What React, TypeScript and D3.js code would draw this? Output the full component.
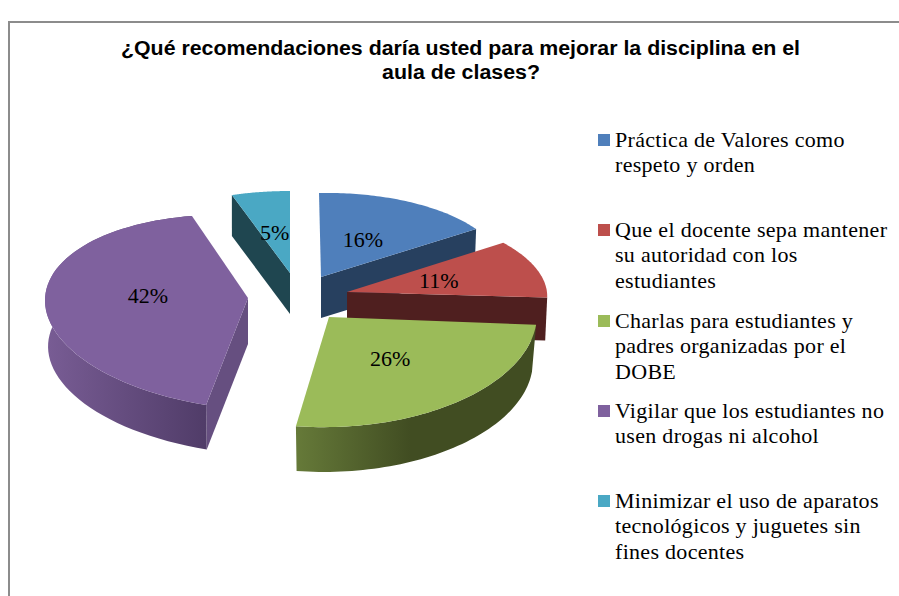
import React from "react";
import * as d3 from "d3";

const titleLines = ["¿Qué recomendaciones daría usted para mejorar la disciplina en el", "aula de clases?"];
const values = [16, 11, 26, 42, 5];
const labels = ["16%", "11%", "26%", "42%", "5%"];
const legendLines = [
  ["Práctica de Valores como", "respeto y orden"],
  ["Que el docente sepa mantener", "su autoridad con los", "estudiantes"],
  ["Charlas para estudiantes y", "padres organizadas por el", "DOBE"],
  ["Vigilar que los estudiantes no", "usen drogas ni alcohol"],
  ["Minimizar el uso de aparatos", "tecnológicos y juguetes sin", "fines docentes"],
];
const colors = ["#4f7fbb", "#bd4f4c", "#9bbb59", "#7f619e", "#4aa8c4"];
const sideColors = ["#27405f", "#4f1f1f", "#414d22", "#664f80", "#1f4650"];
const legendFirstBaseline = [147, 237, 328, 418, 508];

// Per-slice perspective frame of the exploded 3D pie.
const frames = [
  { ox: 321, oy: 277, ax: 185, ay: -3.5, bx: -2, by: -84, k: 0, depth: 41, f: 0.99, inner: "end", wall: false },
  { ox: 347, oy: 292, ax: 199, ay: -5, bx: -22, by: -84, k: 0, depth: 43, f: 0.99, inner: "end", wall: false },
  { ox: 329, oy: 317, ax: 208, ay: -6, bx: -6, by: -110, k: 0, depth: 47, f: 0.98, inner: "", wall: true },
  { ox: 248, oy: 298, ax: 201, ay: 11, bx: -2, by: -95, k: 0.15, depth: 46, f: 0.985, inner: "start", wall: true },
  { ox: 290, oy: 273, ax: 188, ay: 0, bx: 0, by: -82, k: 0, depth: 41, f: 1, inner: "start", wall: false },
];
const drawOrder = [4, 0, 1, 3, 2];

type Frame = (typeof frames)[number];
const project = (fr: Frame, t: number, r = 1): [number, number] => {
  const s = Math.sin(t);
  const c = Math.cos(t);
  const den = 1 + fr.k * c;
  return [fr.ox + (r * (s * fr.ax + c * fr.bx)) / den, fr.oy + (r * (s * fr.ay + c * fr.by)) / den];
};
const lower = (fr: Frame, p: [number, number]): [number, number] => [
  fr.ox + (p[0] - fr.ox) * fr.f,
  fr.oy + fr.depth + (p[1] - fr.oy) * fr.f,
];

const arcs = d3.pie<number>().sort(null).startAngle(0).endAngle(2 * Math.PI)(values);
const line = d3.line();

export default function App() {
  return (
    <svg width={899} height={596} style={{ position: "absolute", left: 0, top: 0, display: "block" }}>
      <defs>
        <linearGradient id="wall2" gradientUnits="userSpaceOnUse" x1={296} x2={410} y1={0} y2={0}>
          <stop offset="0" stopColor="#667a39" />
          <stop offset="1" stopColor="#414d22" />
        </linearGradient>
        <linearGradient id="wall3" gradientUnits="userSpaceOnUse" x1={48} x2={207} y1={0} y2={0}>
          <stop offset="0" stopColor="#785c94" />
          <stop offset="1" stopColor="#503c68" />
        </linearGradient>
      </defs>
      <rect x={0} y={0} width={899} height={596} fill="#fff" />
      <path d="M9,640V22H940" fill="none" stroke="#8c8c8c" strokeWidth={2} />
      <g fontFamily="'Liberation Sans'" fontWeight="bold" fontSize={20} textAnchor="middle" fill="#000">
        <text x={460.5} y={55} textLength={679} lengthAdjust="spacingAndGlyphs">{titleLines[0]}</text>
        <text x={461} y={79} textLength={158} lengthAdjust="spacingAndGlyphs">{titleLines[1]}</text>
      </g>
      {drawOrder.map((i) => {
        const a = arcs[i];
        const fr = frames[i];
        const ts = d3.range(0, 61).map((j) => a.startAngle + ((a.endAngle - a.startAngle) * j) / 60);
        const rim = ts.map((t) => project(fr, t));
        const origin: [number, number] = [fr.ox, fr.oy];
        const top = line([origin, ...rim])! + "Z";
        const lowOrigin = lower(fr, origin);
        const edge = fr.inner === "end" ? rim[rim.length - 1] : rim[0];
        return (
          <g key={i}>
            {fr.inner && (
              <path d={line([origin, edge, lower(fr, edge), lowOrigin])! + "Z"} fill={sideColors[i]} />
            )}
            {fr.wall && (
              <path
                d={line([...rim, ...rim.map((p) => lower(fr, p)).reverse()])! + "Z"}
                fill={`url(#wall${i})`}
              />
            )}
            <path d={top} fill={colors[i]} />
          </g>
        );
      })}
      <g fontFamily="'Liberation Serif'" fontSize={22} textAnchor="middle" fill="#000">
        {arcs.map((a, i) => {
          const [x, y] = project(frames[i], (a.startAngle + a.endAngle) / 2, 0.49);
          return <text key={i} x={x - 1} y={y + 7}>{labels[i]}</text>;
        })}
      </g>
      {legendLines.map((lines, i) => (
        <g key={i}>
          <rect x={598} y={legendFirstBaseline[i] - 13} width={12} height={12} fill={colors[i]} />
          {lines.map((l, j) => (
            <text key={j} x={615} y={legendFirstBaseline[i] + j * 25.3} fontFamily="'Liberation Serif'" fontSize={22} letterSpacing={0.3} fill="#000">{l}</text>
          ))}
        </g>
      ))}
    </svg>
  );
}
